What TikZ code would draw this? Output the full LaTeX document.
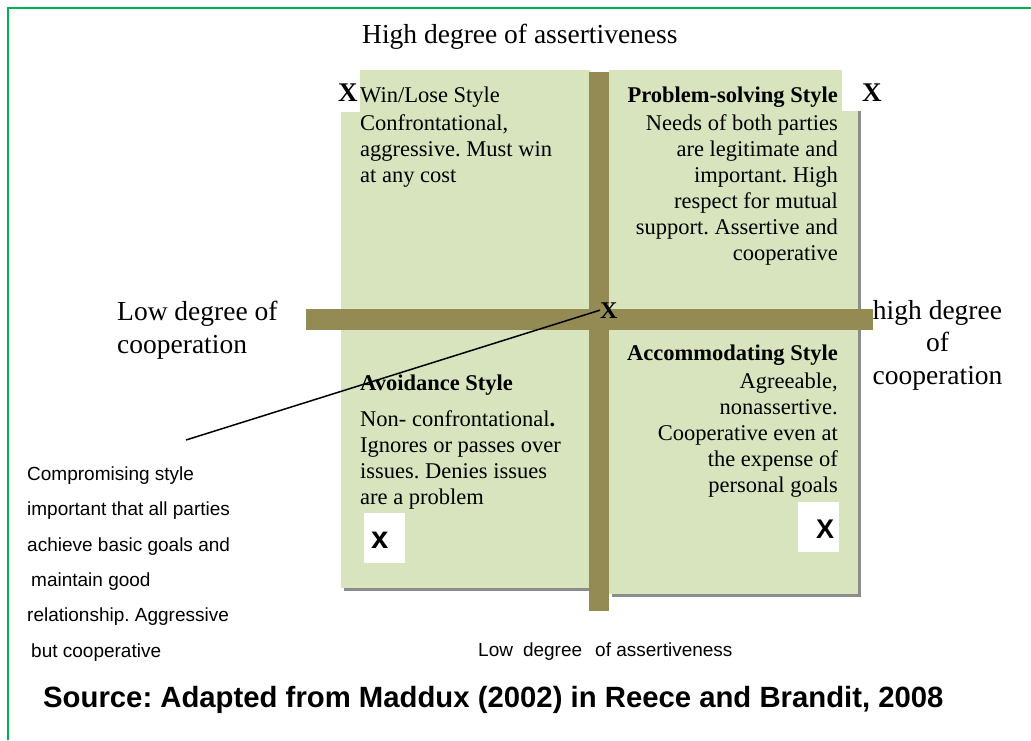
\documentclass[tikz,border=0pt]{standalone}
\usepackage{fontspec}
\setmainfont{Liberation Serif}
\setsansfont{Liberation Sans}
\usepackage{tikz}
\frenchspacing
\definecolor{quadgreen}{HTML}{D7E4BD}
\definecolor{barolive}{HTML}{948A54}
\definecolor{framegreen}{HTML}{00B050}
\tikzstyle{quad} = [fill=quadgreen]
\tikzstyle{boxshadow} = [fill=black!45]
\tikzstyle{bar} = [fill=barolive]
\tikzstyle{blank} = [fill=white]
\tikzstyle{txt} = [inner sep=0pt, font=\fontsize{22.5pt}{26pt}\selectfont]
\tikzstyle{hd} = [inner sep=0pt, font=\bfseries\fontsize{22.5pt}{26pt}\selectfont]
\tikzstyle{axis} = [inner sep=0pt, font=\fontsize{27.5pt}{32.5pt}\selectfont]
\tikzstyle{note} = [inner sep=0pt, font=\sffamily\fontsize{19pt}{35.4pt}\selectfont]
\tikzstyle{xsign} = [inner sep=0pt, font=\bfseries\fontsize{27pt}{27pt}\selectfont]

\begin{document}
\begin{tikzpicture}[yscale=-1]
			\useasboundingbox (0pt,0pt) rectangle (1031pt,740pt);
			\draw[framegreen, line width=2pt] (8pt,740pt) -- (8pt,8pt) -- (1031pt,8pt);
			\fill[boxshadow] (344pt,73pt) rectangle (593pt,323pt);
			\fill[boxshadow] (612pt,73pt) rectangle (861pt,323pt);
			\fill[boxshadow] (344pt,323pt) rectangle (593pt,591pt);
			\fill[boxshadow] (612pt,323pt) rectangle (861pt,597pt);
			\fill[quad] (341pt,70pt) rectangle (590pt,320pt);
			\fill[quad] (609pt,70pt) rectangle (858pt,320pt);
			\fill[quad] (341pt,320pt) rectangle (590pt,588pt);
			\fill[quad] (609pt,320pt) rectangle (858pt,594pt);
			\fill[blank] (330pt,66pt) rectangle (360pt,112pt);
			\fill[blank] (842pt,66pt) rectangle (895pt,111pt);
			\fill[blank] (364pt,513pt) rectangle (405pt,563pt);
			\fill[blank] (798pt,502pt) rectangle (839pt,552pt);
			\fill[bar] (589pt,72pt) rectangle (609pt,611pt);
			\fill[bar] (306pt,309pt) rectangle (873pt,330pt);
			\node (top) at (362pt,43pt)[axis, anchor=base west]{High degree of assertiveness};
			\node (low) at (117pt,301.2pt)[axis, anchor=north west, align=left]{Low degree of\\cooperation};
			\node (high) at (937.5pt,300.2pt)[axis, anchor=north, align=center]{high degree\\of\\cooperation};
			\node (winhd) at (360pt,102pt)[txt, anchor=base west]{Win/Lose Style};
			\node (wintxt) at (360pt,114pt)[txt, anchor=north west, align=left]{Confrontational,\\aggressive. Must win\\at any cost};
			\node (probhd) at (838pt,102.7pt)[hd, anchor=base east]{Problem-solving Style};
			\node (probtxt) at (838pt,114pt)[txt, anchor=north east, align=right]{Needs of both parties\\are legitimate and\\important. High\\respect for mutual\\support. Assertive and\\cooperative};
			\node (avoidhd) at (360pt,390pt)[hd, anchor=base west]{Avoidance Style};
			\node (avoidtxt) at (360pt,410.3pt)[txt, anchor=north west, align=left]{Non- confrontational\textbf{.}\\Ignores or passes over\\issues. Denies issues\\are a problem};
			\node (acchd) at (838pt,360pt)[hd, anchor=base east]{Accommodating Style};
			\node (acctxt) at (838pt,372.9pt)[txt, anchor=north east, align=right]{Agreeable,\\nonassertive.\\Cooperative even at\\the expense of\\personal goals};
			\node (comp) at (27pt,466.4pt)[note, anchor=north west, align=left]{Compromising style\\important that all parties\\achieve basic goals and\\\hspace*{4pt}maintain good\\relationship. Aggressive\\\hspace*{4pt}but cooperative};
			\node (bottom) at (478pt,656pt)[note, anchor=base west]{Low\hspace{10pt}degree\hspace{13pt}of assertiveness};
			\node (source) at (43pt,707pt)[inner sep=0pt, anchor=base west, font=\sffamily\bfseries\fontsize{29.3pt}{30pt}\selectfont]{Source: Adapted from Maddux (2002) in Reece and Brandit, 2008};
			\node (xtl) at (338pt,101pt)[xsign, anchor=base west]{X};
			\node (xtr) at (862pt,101pt)[xsign, anchor=base west]{X};
			\node (cx) at (600pt,318pt)[xsign, anchor=base west, font=\bfseries\fontsize{24pt}{24pt}\selectfont]{X};
			\node (xbl) at (371pt,548pt)[xsign, anchor=base west, font=\sffamily\bfseries\fontsize{31pt}{31pt}\selectfont]{x};
			\node (xbr) at (816pt,538pt)[xsign, anchor=base west, font=\sffamily\bfseries\fontsize{27pt}{27pt}\selectfont]{X};
			\coordinate (comptip) at (186pt,440pt);
			\draw[line width=1.5pt] (comptip) -- (cx.west);
		\end{tikzpicture}
\end{document}
